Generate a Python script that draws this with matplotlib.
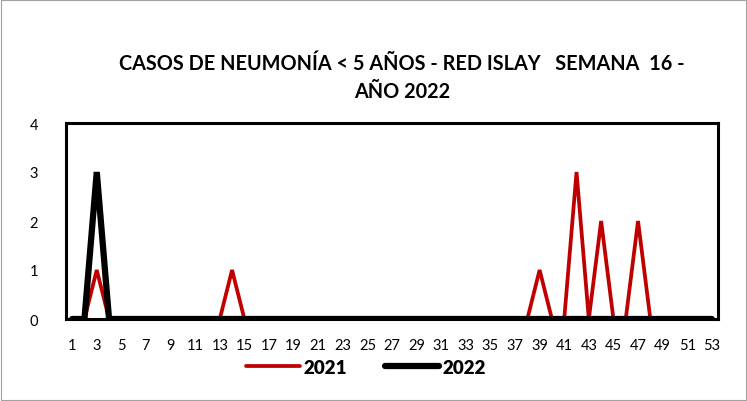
import matplotlib
matplotlib.use("Agg")
import matplotlib.pyplot as plt
from matplotlib.patches import Rectangle

weeks = list(range(1, 54))
cases_2021 = [0]*53
for w, v in [(3, 1), (14, 1), (39, 1), (42, 3), (44, 2), (47, 2)]:
    cases_2021[w-1] = v
cases_2022 = [0]*53
cases_2022[2] = 3

title = "CASOS DE NEUMONÍA < 5 AÑOS - RED ISLAY   SEMANA  16 -\nAÑO 2022"

plt.rcParams['font.family'] = ['Lato', 'DejaVu Sans']

fig = plt.figure(figsize=(7.47, 4.02), dpi=100)
ax = fig.add_axes([66/747, 1-320/402, (718-66)/747, (320-124)/402])

ax.plot(weeks, cases_2021, color='#C00000', lw=2.7, label='2021', solid_joinstyle='miter',
        solid_capstyle='round')
ax.plot(weeks, cases_2022, color='black', lw=4.5, label='2022', solid_joinstyle='miter',
        solid_capstyle='round')

ax.set_xlim(0.5, 53.5)
ax.set_ylim(0, 4)
ax.set_xticks(weeks[::2])
ax.set_xticklabels([str(w) for w in weeks[::2]], fontsize=10.5)
ax.set_yticks([0, 1, 2, 3, 4])
ax.set_yticklabels(['0', '1', '2', '3', '4'], fontsize=10.5)
ax.tick_params(length=0, pad=14)
ax.tick_params(axis='y', pad=20)
for s in ax.spines.values():
    s.set_linewidth(2.2)
    s.set_color('black')

fig.text(402/747, 1-78/402, title, ha='center', va='center', fontsize=14.3,
         fontweight='bold', linespacing=1.45)

leg = fig.legend(loc='center', bbox_to_anchor=(366/747, 1-368/402), ncol=2,
                 frameon=False, prop={'size': 13.5, 'weight': 'heavy'},
                 handlelength=2.9, handletextpad=0.2, columnspacing=2.0)

fig.patches.append(Rectangle((1/747, 1/402), 745/747, 400/402, transform=fig.transFigure,
                             fill=False, edgecolor='#A0A0A0', lw=0.8))

fig.savefig('out.png', dpi=100)
